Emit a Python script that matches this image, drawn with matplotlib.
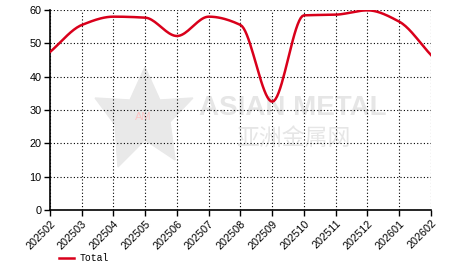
import numpy as np
import matplotlib
matplotlib.use("Agg")
import matplotlib.pyplot as plt
from matplotlib.patches import Polygon

months = ["202502", "202503", "202504", "202505", "202506", "202507", "202508",
          "202509", "202510", "202511", "202512", "202601", "202602"]
total = [47.4, 55.5, 58.0, 57.7, 52.2, 58.0, 55.5,
         32.5, 58.4, 58.6, 59.9, 56.5, 46.5]

red = "#d9001b"


def smooth(x, y, n=20):
    """monotone cubic (Fritsch-Carlson) through the points"""
    x = np.asarray(x, float)
    y = np.asarray(y, float)
    d = np.diff(y) / np.diff(x)
    m = np.zeros_like(y)
    m[0], m[-1] = d[0], d[-1]
    for i in range(1, len(y) - 1):
        if d[i - 1] * d[i] > 0:
            m[i] = 2 / (1 / d[i - 1] + 1 / d[i])
    xs, ys = [], []
    for i in range(len(x) - 1):
        h = x[i + 1] - x[i]
        t = np.linspace(0, 1, n, endpoint=False)
        h00 = 2 * t**3 - 3 * t**2 + 1
        h10 = t**3 - 2 * t**2 + t
        h01 = -2 * t**3 + 3 * t**2
        h11 = t**3 - t**2
        xs.append(x[i] + t * h)
        ys.append(h00 * y[i] + h10 * h * m[i] + h01 * y[i + 1] + h11 * h * m[i + 1])
    xs.append([x[-1]])
    ys.append([y[-1]])
    return np.concatenate(xs), np.concatenate(ys)


fig = plt.figure(figsize=(4.66, 2.72), dpi=100)
ax = fig.add_axes([50 / 466, 62 / 272, 381 / 466, 200 / 272])

pos = np.arange(len(months))

# watermark
star = Polygon([(2.99, 42.9), (3.46, 33), (4.50, 33.6), (3.78, 26.4), (3.94, 15),
                (2.99, 21), (2.14, 12.9), (2.05, 25.5), (1.42, 33.6), (2.52, 33)],
               closed=True, color="#e9e9e9", zorder=0)
ax.add_patch(star)
ax.text(2.93, 27.9, "AM", color="#fbc4c4", fontsize=8, ha="center", va="center",
        family="Liberation Sans", zorder=0.5)
ax.text(7.65, 30.6, "ASIAN METAL", color="#e6e6e6", fontsize=20,
        fontweight="bold", family="Liberation Sans",
        ha="center", va="center", zorder=0.5)
ax.text(7.68, 21.6, "亚洲金属网", color="#e6e6e6", fontsize=16.5,
        family=["Noto Sans CJK SC", "DejaVu Sans"], ha="center", va="center",
        zorder=0.5)

xs, ys = smooth(pos, total)
ax.plot(xs, ys, color=red, lw=1.8, label="Total", zorder=3)

ax.set_xlim(0, len(months) - 1)
ax.set_ylim(0, 60)
ax.set_yticks(range(0, 61, 10))
ax.set_xticks(pos)
ax.set_xticklabels(months, rotation=45, ha="right", rotation_mode="anchor",
                   fontsize=7.8, family="Liberation Sans")
for lab in ax.get_yticklabels():
    lab.set_fontsize(7.8)
    lab.set_family("Liberation Sans")

ax.grid(True, color="black", linestyle=(0, (1, 2)), lw=0.8, zorder=1)
ax.spines["top"].set_visible(False)
ax.spines["right"].set_visible(False)
ax.spines["left"].set_linewidth(1.2)
ax.spines["bottom"].set_linewidth(1.2)
ax.tick_params(direction="out", length=4, width=1, pad=2)

leg = fig.legend(loc="lower left", bbox_to_anchor=(50 / 466, 0.0),
                 frameon=False, handlelength=1.6, handletextpad=0.5,
                 prop={"family": "Liberation Mono", "size": 7})

fig.savefig("out.png", dpi=100)
